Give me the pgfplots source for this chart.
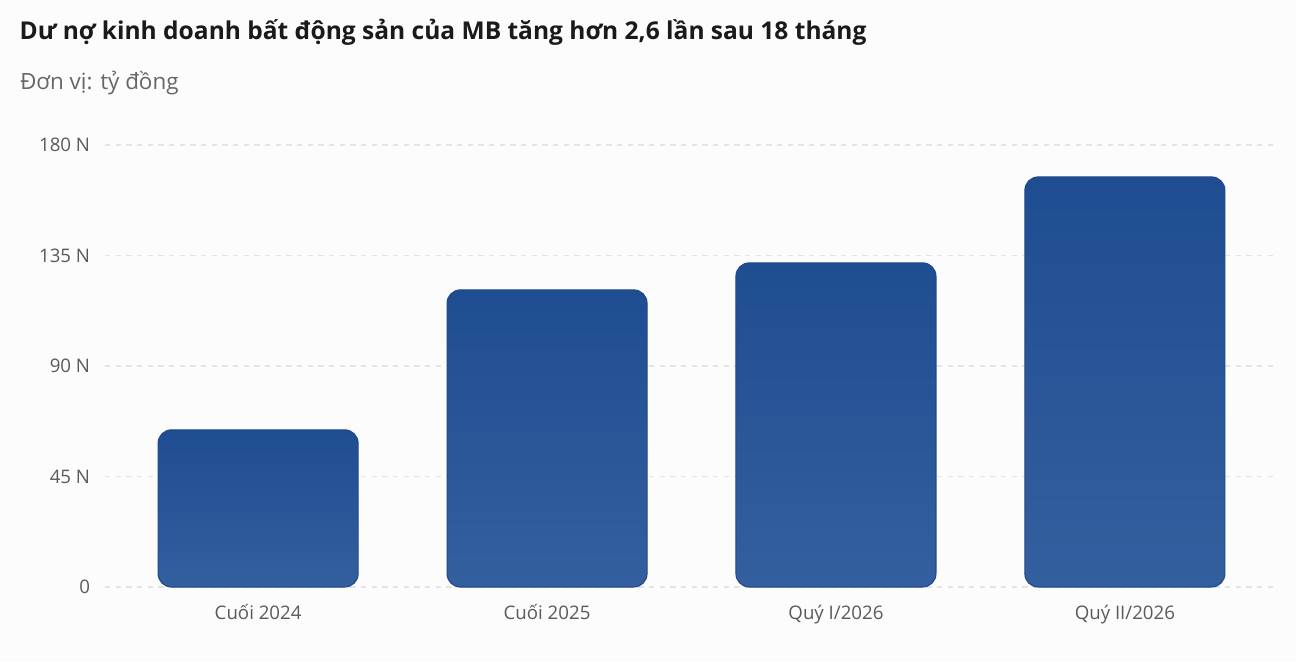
\documentclass[border=0pt]{standalone}
\usepackage{fontspec}
\setmainfont{Open Sans}
\usepackage{pgfplots}
\pgfplotsset{compat=1.18}
\definecolor{bgc}{HTML}{FCFCFC}
\definecolor{bartop}{HTML}{1F4D91}
\definecolor{barbot}{HTML}{345F9F}
\definecolor{barline}{HTML}{21488C}
\definecolor{gridc}{HTML}{E4E4E4}
\definecolor{tickc}{HTML}{5A5A5A}
\definecolor{titlec}{HTML}{1A1A1A}
\definecolor{subc}{HTML}{666666}

\begin{document}
\begin{tikzpicture}
  % page: 1296x662 px at 0.75pt per px
  \fill[bgc] (0,0) rectangle (972pt,496.5pt);
  \node[anchor=base west, inner sep=0pt, font=\bfseries\fontsize{18.4}{20}\selectfont, text=titlec]
    at (14.5pt,467pt) {Dư nợ kinh doanh bất động sản của MB tăng hơn 2,6 lần sau 18 tháng};
  \node[anchor=base west, inner sep=0pt, font=\fontsize{16.8}{18}\selectfont, text=subc]
    at (15pt,429pt) {Đơn vị: tỷ đồng};

  \begin{axis}[
    at={(78.75pt,56.25pt)}, anchor=south west,
    scale only axis,
    width=879.75pt, height=331.5pt,
    xmin=-0.53, xmax=3.53,
    ymin=0, ymax=180,
    clip=false,
    axis line style={draw=none},
    major tick length=0pt,
    xtick={0,1,2,3},
    xticklabels={Cuối 2024,Cuối 2025,Quý I/2026,Quý II/2026},
    ytick={0,45,90,135,180},
    yticklabels={0,45 N,90 N,135 N,180 N},
    ymajorgrids,
    grid style={gridc, line width=0.9pt, dash pattern=on 4pt off 4pt},
    ticklabel style={font=\fontsize{14}{16}\selectfont, text=tickc},
    yticklabel style={anchor=east, inner sep=0pt, xshift=-11pt},
    xticklabel style={anchor=base, inner sep=0pt, yshift=-24.5pt},
    ybar,
    bar width=150pt,
    mybar/.style={
      ybar, bar shift=0pt, draw=barline, line width=0.8pt,
      top color=bartop, bottom color=barbot, rounded corners=10pt},
  ]
    \addplot[mybar] coordinates {(0,64)};
    \addplot[mybar] coordinates {(1,121)};
    \addplot[mybar] coordinates {(2,132)};
    \addplot[mybar] coordinates {(3,167)};
  \end{axis}
\end{tikzpicture}
\end{document}
